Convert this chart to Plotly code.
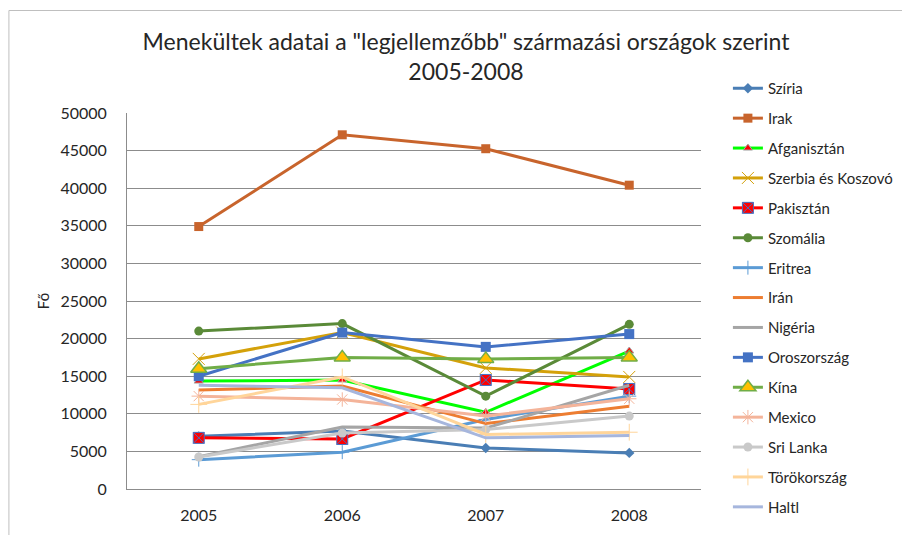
import plotly.graph_objects as go

years = ["2005", "2006", "2007", "2008"]

countries = ["Szíria", "Irak", "Afganisztán", "Szerbia és Koszovó", "Pakisztán",
             "Szomália", "Eritrea", "Irán", "Nigéria", "Oroszország", "Kína",
             "Mexico", "Sri Lanka", "Törökország", "Haltl"]

sziria = [7000, 7700, 5450, 4800]
irak = [34900, 47100, 45250, 40400]
afganisztan = [14350, 14500, 10200, 18350]
szerbia = [17300, 20800, 16100, 14900]
pakisztan = [6800, 6650, 14500, 13300]
szomalia = [21000, 22000, 12350, 21900]
eritrea = [3900, 4900, 9250, 12350]
iran = [13150, 13700, 8700, 11000]
nigeria = [4300, 8250, 8100, 13800]
oroszorszag = [15000, 20800, 18900, 20600]
kina = [16000, 17500, 17300, 17500]
mexico = [12350, 11900, 9700, 12000]
srilanka = [4250, 7450, 7900, 9700]
torokorszag = [11250, 14900, 7250, 7550]
haiti = [13800, 13450, 6800, 7100]

series_values = [sziria, irak, afganisztan, szerbia, pakisztan, szomalia, eritrea,
                 iran, nigeria, oroszorszag, kina, mexico, srilanka, torokorszag, haiti]

line_colors = ["#4A7EB5", "#C8642C", "#00FF00", "#D4A10A", "#FF0000", "#5A8A38",
               "#5B9BD5", "#ED7D31", "#A5A5A5", "#4472C4", "#70AD47", "#F4B49A",
               "#C9C9C9", "#FFD59A", "#A6B6DD"]

markers = [
    dict(symbol="diamond", size=8, color="#4A7EB5"),
    dict(symbol="square", size=9, color="#C8642C"),
    dict(symbol="triangle-up", size=8, color="#FF0000", line=dict(color="#A5A5A5", width=1)),
    dict(symbol="x-thin-open", size=12, color="#D4A10A", line=dict(color="#D4A10A", width=1)),
    dict(symbol="square-x", size=11, color="#FF0000", line=dict(color="#4472C4", width=1)),
    dict(symbol="circle", size=9, color="#5A8A38"),
    dict(symbol="cross-thin-open", size=10, color="#5B9BD5", line=dict(color="#5B9BD5", width=1)),
    None,
    None,
    dict(symbol="square", size=10, color="#4472C4"),
    dict(symbol="triangle-up", size=14, color="#FFC000", line=dict(color="#70AD47", width=1.5)),
    dict(symbol="asterisk-open", size=12, color="#F4B49A", line=dict(color="#F4B49A", width=1)),
    dict(symbol="circle", size=9, color="#C9C9C9"),
    dict(symbol="cross-thin-open", size=12, color="#FFD59A", line=dict(color="#FFD59A", width=1)),
    None,
]

fig = go.Figure()
for name, vals, col, mk in zip(countries, series_values, line_colors, markers):
    if mk is None:
        fig.add_trace(go.Scatter(x=years, y=vals, name=name, mode="lines",
                                 line=dict(color=col, width=3), legendgroup=name))
    else:
        fig.add_trace(go.Scatter(x=years, y=vals, name=name, mode="lines+markers",
                                 line=dict(color=col, width=3), marker=mk, legendgroup=name))

FONT = "Lato"
TXT = "#262626"

# page has an 8px body margin; work in figure coordinates (page - 8)
OFF = 8
W, H = 910 - OFF, 535 - OFF
L, T = 127 - OFF, 113 - OFF
R = W - (703 - OFF)
B = H - (489 - OFF)
pw, ph = W - L - R, H - T - B

def px_x(p):
    return (p - OFF - L) / pw

def px_y(p):
    return (H - B - (p - OFF)) / ph

fig.update_layout(
    width=W, height=H,
    margin=dict(l=L, r=R, t=T, b=B),
    paper_bgcolor="white", plot_bgcolor="white",
    font=dict(family=FONT, color=TXT, size=16),
    title=dict(text="Menekültek adatai a \"legjellemzőbb\" származási országok szerint<br>2005-2008",
               x=(466 - OFF) / W, xanchor="center", y=1 - (50 - OFF) / H, yanchor="middle",
               font=dict(family=FONT, size=23, color=TXT)),
    xaxis=dict(type="category", range=[-0.5, 3.5], showgrid=False,
               showline=True, linecolor="#8C8C8C", linewidth=1,
               ticks="", ticklabelstandoff=12, tickfont=dict(size=16, color=TXT), fixedrange=True),
    yaxis=dict(range=[0, 50000], dtick=5000, showgrid=True, gridcolor="#8C8C8C", gridwidth=1,
               showline=True, linecolor="#8C8C8C", linewidth=1, zeroline=False,
               ticks="", ticklabelstandoff=16, tickfont=dict(size=16, color=TXT), tickformat="d",
               title=dict(text="Fő", font=dict(size=15, color=TXT), standoff=7),
               fixedrange=True),
    legend=dict(x=px_x(730), xanchor="left", y=px_y(72), yanchor="top",
                font=dict(family=FONT, size=15, color=TXT),
                traceorder="grouped", tracegroupgap=7.4, itemwidth=30,
                maxheight=2000,
                bgcolor="rgba(0,0,0,0)"),
    showlegend=True,
    shapes=[dict(type="rect", xref="paper", yref="paper",
                 x0=px_x(8.5), x1=px_x(930), y0=px_y(560), y1=px_y(10.5),
                 line=dict(color="#BFBFBF", width=1), layer="below")],
)

fig.write_html("out.html")
